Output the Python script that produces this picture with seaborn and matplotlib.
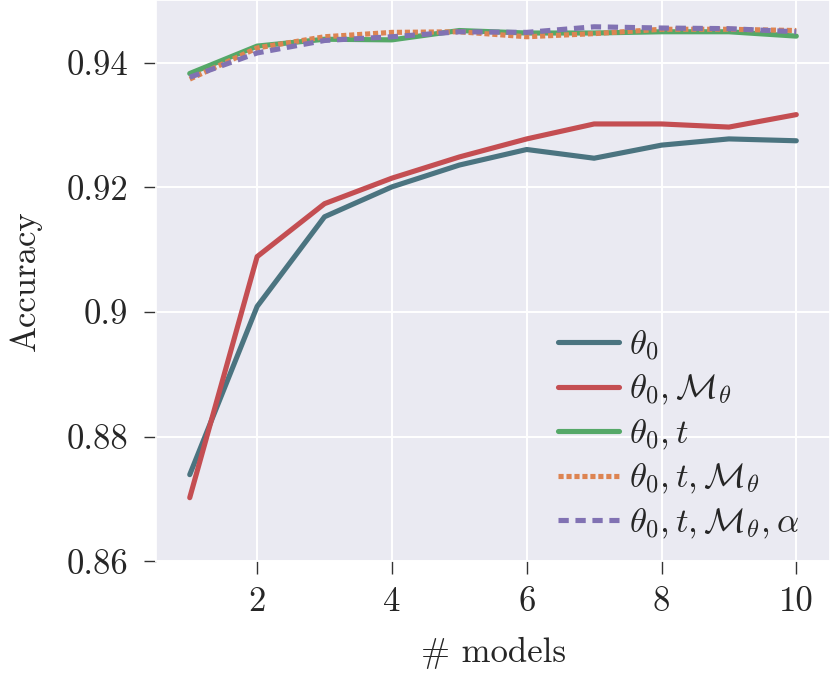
import numpy as np
import pandas as pd
import matplotlib
matplotlib.use("Agg")
import matplotlib.pyplot as plt
import seaborn as sns

n_models = [1, 2, 3, 4, 5, 6, 7, 8, 9, 10]
acc_theta0 = [0.8739, 0.9009, 0.9153, 0.9201, 0.9236, 0.9261, 0.9247, 0.9268, 0.9278, 0.9275]
acc_theta0_M = [0.8702, 0.9089, 0.9174, 0.9215, 0.9249, 0.9278, 0.9302, 0.9302, 0.9297, 0.9317]
acc_theta0_t = [0.9383, 0.9427, 0.9438, 0.9437, 0.9452, 0.9448, 0.9448, 0.9450, 0.9450, 0.9443]
acc_theta0_t_M = [0.9374, 0.9424, 0.9442, 0.9449, 0.9450, 0.9442, 0.9447, 0.9454, 0.9454, 0.9452]
acc_theta0_t_M_a = [0.9377, 0.9416, 0.9436, 0.9442, 0.9450, 0.9449, 0.9458, 0.9456, 0.9455, 0.9450]

labels = [r"$\theta_0$", r"$\theta_0, \mathcal{M}_\theta$", r"$\theta_0, t$",
          r"$\theta_0, t, \mathcal{M}_\theta$", r"$\theta_0, t, \mathcal{M}_\theta, \alpha$"]
series = [acc_theta0, acc_theta0_M, acc_theta0_t, acc_theta0_t_M, acc_theta0_t_M_a]
colors = ["#4b7480", "#c44e52", "#55a868", "#dd8452", "#8172b3"]
dash_styles = [None, None, None, (1.0, 0.55), (2.0, 1.3)]

yticks = [0.86, 0.88, 0.90, 0.92, 0.94]
ytick_labels = ["0.86", "0.88", "0.9", "0.92", "0.94"]
xticks = [2, 4, 6, 8, 10]

sns.set_theme(style="darkgrid")
plt.rcParams["font.family"] = ["cmr10", "DejaVu Serif"]
plt.rcParams["mathtext.fontset"] = "cm"
plt.rcParams["axes.unicode_minus"] = False

fig = plt.figure(figsize=(8.3, 6.77), dpi=100)
ax = fig.add_axes([0.188, 0.171, 0.812, 0.829])

for lab, vals, col, ds in zip(labels, series, colors, dash_styles):
    df = pd.DataFrame({"x": n_models, "y": vals})
    sns.lineplot(data=df, x="x", y="y", ax=ax, color=col, lw=3.7, label=lab)
    if ds is not None:
        ax.lines[-1].set_dashes(ds)

ax.set_xlim(0.5, 10.5)
ax.set_ylim(0.86, 0.9501)
ax.set_xticks(xticks)
ax.set_xticklabels([str(v) for v in xticks])
ax.set_yticks(yticks)
ax.set_yticklabels(ytick_labels)
ax.tick_params(axis="both", which="major", labelsize=25, length=9, width=1,
               color="#333333", bottom=True, left=True, pad=9)
ax.tick_params(axis="y", pad=11)
ax.set_xlabel("# models", fontsize=25, labelpad=14)
ax.set_ylabel("Accuracy", fontsize=25, labelpad=18)
ax.grid(True, color="white", lw=1.4)

leg = ax.legend(loc="lower right", bbox_to_anchor=(0.988, -0.004), frameon=False,
                fontsize=25, handlelength=1.75, handletextpad=0.3,
                labelspacing=0.3, borderaxespad=0.25)
for h in leg.get_lines():
    h.set_linewidth(3.7)

fig.savefig("out.png", dpi=100)
